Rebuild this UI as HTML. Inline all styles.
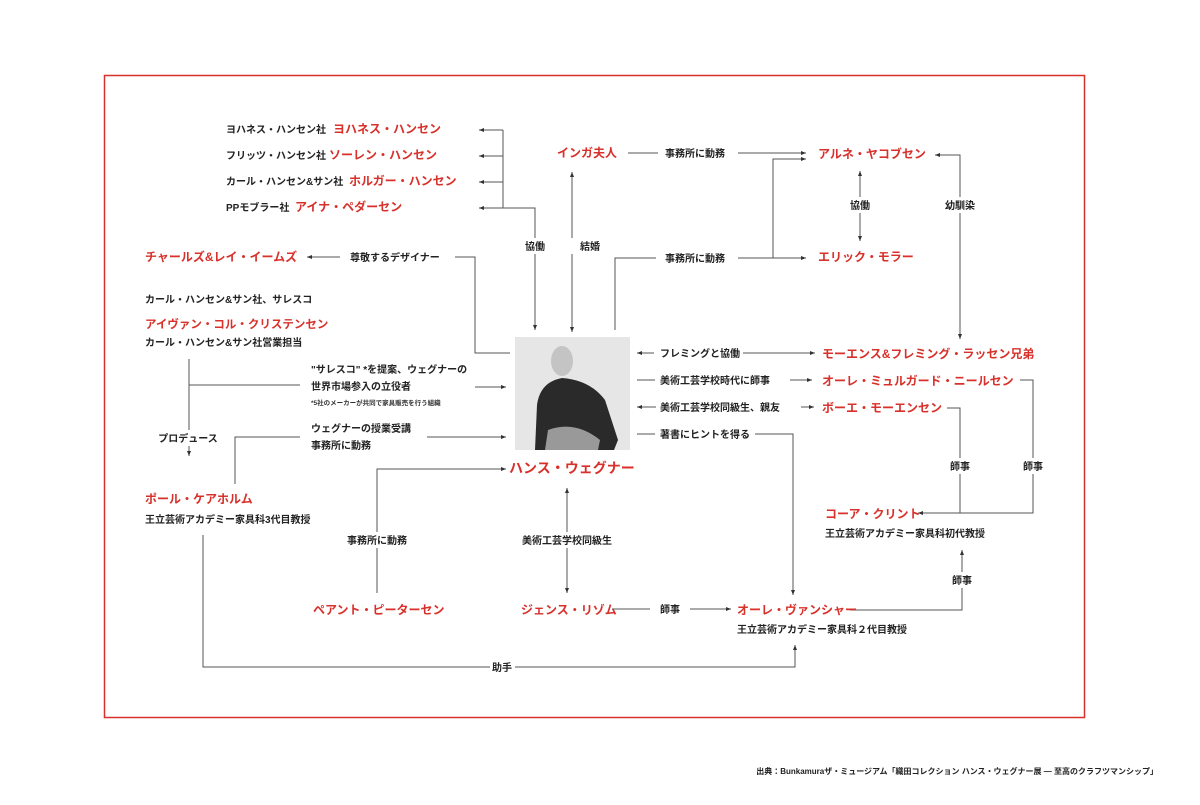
<!DOCTYPE html>
<html><head><meta charset="utf-8"><style>
body{margin:0;background:#fff}
svg text{font-family:"Liberation Sans","Noto Sans CJK JP",sans-serif;font-weight:bold}
.b{font-size:10px;fill:#222}
.r{font-size:12px;fill:#d8312b}
.s{font-size:6.5px;fill:#333}
</style></head><body>
<svg width="1200" height="800" viewBox="0 0 1200 800" xmlns="http://www.w3.org/2000/svg">
<defs>
<marker id="a" markerWidth="6" markerHeight="6" refX="5" refY="3" orient="auto" markerUnits="userSpaceOnUse"><path d="M0,1 L5,3 L0,5 z" fill="#333"/></marker>
</defs>
<rect x="104.5" y="75.5" width="980" height="642" fill="none" stroke="#d8312b" stroke-width="1.5"/>
<g stroke="#555" stroke-width="1" fill="none">
<path d="M503,130 H479" marker-end="url(#a)"/>
<path d="M503,156 H479" marker-end="url(#a)"/>
<path d="M503,182 H479" marker-end="url(#a)"/>
<path d="M503,208 H479" marker-end="url(#a)"/>
<path d="M503,130 V208 H535 V238"/>
<path d="M535,254 V330" marker-end="url(#a)"/>
<path d="M572,238 V172" marker-end="url(#a)"/>
<path d="M572,254 V332" marker-end="url(#a)"/>
<path d="M628,153 H658"/>
<path d="M738,153 H806" marker-end="url(#a)"/>
<path d="M615,330 V258 H656"/>
<path d="M738,258 H806" marker-end="url(#a)"/>
<path d="M773,258 V159 H806" marker-end="url(#a)"/>
<path d="M860,197 V171" marker-end="url(#a)"/>
<path d="M860,213 V241" marker-end="url(#a)"/>
<path d="M960,197 V155 H935" marker-end="url(#a)"/>
<path d="M960,213 V339" marker-end="url(#a)"/>
<path d="M340,257 H307" marker-end="url(#a)"/>
<path d="M455,257 H475 V353 H510"/>
<path d="M189,359 V430"/>
<path d="M189,446 V456" marker-end="url(#a)"/>
<path d="M189,385 H300"/>
<path d="M475,387 H506" marker-end="url(#a)"/>
<path d="M235,484 V437 H300"/>
<path d="M427,437 H506" marker-end="url(#a)"/>
<path d="M377,532 V469 H506" marker-end="url(#a)"/>
<path d="M377,548 V593"/>
<path d="M567,532 V488" marker-end="url(#a)"/>
<path d="M567,548 V593" marker-end="url(#a)"/>
<path d="M612,609 H650"/>
<path d="M690,609 H731" marker-end="url(#a)"/>
<path d="M850,610 H962 V588"/>
<path d="M962,572 V550" marker-end="url(#a)"/>
<path d="M203,535 V667 H490"/>
<path d="M515,667 H795 V645" marker-end="url(#a)"/>
<path d="M654,353 H637" marker-end="url(#a)"/>
<path d="M743,353 H815" marker-end="url(#a)"/>
<path d="M637,380 H655"/>
<path d="M790,380 H812" marker-end="url(#a)"/>
<path d="M656,407 H637" marker-end="url(#a)"/>
<path d="M801,407 H814" marker-end="url(#a)"/>
<path d="M637,434 H655"/>
<path d="M755,434 H793 V595" marker-end="url(#a)"/>
<path d="M947,408 H960 V458"/>
<path d="M960,474 V513"/>
<path d="M1020,380 H1033 V458"/>
<path d="M1033,474 V513 H918" marker-end="url(#a)"/>
</g>
<rect x="515" y="337" width="115" height="113" fill="#e6e6e6"/>
<ellipse cx="562" cy="361" rx="11" ry="15" fill="#c4c4c4"/>
<path d="M535,450 L537,405 Q540,382 562,378 Q590,380 605,400 L618,440 L614,450 Z" fill="#2a2a2a"/>
<path d="M548,430 Q575,420 600,440 L598,450 L545,450 Z" fill="#999"/>
<text class="b" x="226" y="133">ヨハネス・ハンセン社</text><text class="r" x="333" y="133">ヨハネス・ハンセン</text>
<text class="b" x="226" y="159">フリッツ・ハンセン社</text><text class="r" x="329" y="159">ソーレン・ハンセン</text>
<text class="b" x="226" y="185">カール・ハンセン&amp;サン社</text><text class="r" x="349" y="185">ホルガー・ハンセン</text>
<text class="b" x="226" y="211">PPモブラー社</text><text class="r" x="295" y="211">アイナ・ペダーセン</text>
<text class="b" x="535" y="250" text-anchor="middle">協働</text>
<text class="b" x="590" y="250" text-anchor="middle">結婚</text>
<text class="r" x="557" y="157">インガ夫人</text>
<text class="b" x="665" y="157">事務所に動務</text>
<text class="b" x="665" y="262">事務所に動務</text>
<text class="r" x="818" y="158">アルネ・ヤコブセン</text>
<text class="r" x="818" y="261">エリック・モラー</text>
<text class="b" x="860" y="209" text-anchor="middle">協働</text>
<text class="b" x="960" y="209" text-anchor="middle">幼馴染</text>
<text class="r" x="145" y="261">チャールズ&amp;レイ・イームズ</text>
<text class="b" x="350" y="261">尊敬するデザイナー</text>
<text class="b" x="145" y="303">カール・ハンセン&amp;サン社、サレスコ</text>
<text class="r" x="145" y="328" style="font-size:11.5px">アイヴァン・コル・クリステンセン</text>
<text class="b" x="145" y="346">カール・ハンセン&amp;サン社営業担当</text>
<text class="b" x="311" y="373">"サレスコ" *を提案、ウェグナーの</text>
<text class="b" x="311" y="390">世界市場参入の立役者</text>
<text class="s" x="311" y="405">*5社のメーカーが共同で家具販売を行う組織</text>
<text class="b" x="311" y="432">ウェグナーの授業受講</text>
<text class="b" x="311" y="449">事務所に動務</text>
<text class="b" x="188" y="442" text-anchor="middle">プロデュース</text>
<text class="r" x="509" y="473" style="font-size:14px">ハンス・ウェグナー</text>
<text class="r" x="145" y="503">ポール・ケアホルム</text>
<text class="b" x="145" y="523">王立芸術アカデミー家具科3代目教授</text>
<text class="b" x="377" y="544" text-anchor="middle">事務所に動務</text>
<text class="b" x="567" y="544" text-anchor="middle">美術工芸学校同級生</text>
<text class="r" x="313" y="614">ペアント・ピーターセン</text>
<text class="r" x="521" y="614">ジェンス・リゾム</text>
<text class="b" x="670" y="613" text-anchor="middle">師事</text>
<text class="r" x="737" y="614">オーレ・ヴァンシャー</text>
<text class="b" x="737" y="633">王立芸術アカデミー家具科２代目教授</text>
<text class="b" x="962" y="584" text-anchor="middle">師事</text>
<text class="b" x="502" y="671" text-anchor="middle">助手</text>
<text class="b" x="660" y="357">フレミングと協働</text>
<text class="r" x="822" y="358">モーエンス&amp;フレミング・ラッセン兄弟</text>
<text class="b" x="660" y="384">美術工芸学校時代に師事</text>
<text class="r" x="822" y="385">オーレ・ミュルガード・ニールセン</text>
<text class="b" x="660" y="411">美術工芸学校同級生、親友</text>
<text class="r" x="822" y="412">ボーエ・モーエンセン</text>
<text class="b" x="660" y="438">著書にヒントを得る</text>
<text class="b" x="960" y="470" text-anchor="middle">師事</text>
<text class="b" x="1033" y="470" text-anchor="middle">師事</text>
<text class="r" x="825" y="518">コーア・クリント</text>
<text class="b" x="825" y="537">王立芸術アカデミー家具科初代教授</text>
<text class="b" x="1158" y="774" text-anchor="end" style="font-size:8px">出典：Bunkamuraザ・ミュージアム「織田コレクション ハンス・ウェグナー展 ― 至高のクラフツマンシップ」</text>
</svg>
</body></html>
